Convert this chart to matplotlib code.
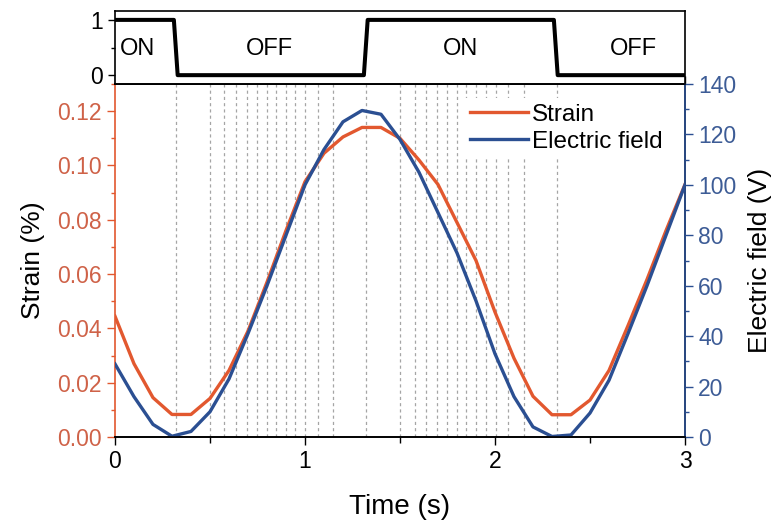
import matplotlib
matplotlib.use("Agg")
import matplotlib.pyplot as plt
import numpy as np
from matplotlib.ticker import MultipleLocator, FormatStrFormatter

plt.rcParams['font.family'] = ['Liberation Sans', 'DejaVu Sans']

# sampled every 0.1 s
time = [0.0, 0.1, 0.2, 0.3, 0.4, 0.5, 0.6, 0.7, 0.8, 0.9, 1.0,
        1.1, 1.2, 1.3, 1.4, 1.5, 1.6, 1.7, 1.8, 1.9, 2.0,
        2.1, 2.2, 2.3, 2.4, 2.5, 2.6, 2.7, 2.8, 2.9, 3.0]
strain = [0.0445, 0.027, 0.0145, 0.0083, 0.0083, 0.0142, 0.0245, 0.039, 0.057, 0.076, 0.094,
          0.1045, 0.1105, 0.114, 0.114, 0.110, 0.102, 0.093, 0.079, 0.065, 0.046,
          0.029, 0.015, 0.0082, 0.0082, 0.0136, 0.0245, 0.041, 0.058, 0.076, 0.093]
efield = [29, 16, 5, 0.3, 2.2, 10, 23, 41, 60, 80, 100,
          114, 125, 129.5, 128, 118, 105, 89, 73, 54, 33,
          16, 4, 0.2, 0.8, 9.5, 22.5, 41, 60, 80, 100]

# switching state of the source
switch_t = [0.0, 0.31, 0.33, 1.31, 1.33, 2.31, 2.33, 3.0]
switch_v = [1, 1, 0, 0, 1, 1, 0, 0]
state_labels = ['ON', 'OFF', 'ON', 'OFF']
state_pos = [0.12, 0.815, 1.82, 2.73]

# sampling instants
marks = [0.32, 0.5, 0.574, 0.637, 0.694, 0.747, 0.798, 0.848, 0.9, 0.95, 1.0,
         1.07, 1.148, 1.323, 1.5, 1.578, 1.639, 1.695, 1.75, 1.8, 1.85, 1.9,
         1.952, 2.007, 2.07, 2.152, 2.324]

c_strain = '#E2582F'
c_field = '#2B4F92'
c_strain_txt = '#CF6248'
c_field_txt = '#3D5C96'
tick_fs = 16.5

fig = plt.figure(figsize=(7.8, 5.26), dpi=100)
ax = fig.add_axes([0.1474, 0.1692, 0.7308, 0.6711])
top = fig.add_axes([0.1474, 0.8403, 0.7308, 0.1387])
ax2 = ax.twinx()

# switching panel
top.plot(switch_t, switch_v, color='black', lw=2.9)
top.set_xlim(0, 3)
top.set_ylim(-0.16, 1.16)
top.set_yticks([0, 1])
top.yaxis.set_minor_locator(MultipleLocator(0.5))
top.set_xticks([])
top.tick_params(axis='y', labelsize=tick_fs, length=5, width=1)
top.tick_params(axis='y', which='minor', length=3, width=1)
for lbl, x in zip(state_labels, state_pos):
    top.text(x, 0.48, lbl, ha='center', va='center', fontsize=17)

# main panel
for m in marks:
    ax.axvline(m, color='#a5a5a5', lw=0.9, ls=(0, (2.5, 2.5)), zorder=0)
l1, = ax.plot(time, strain, color=c_strain, lw=2.4, label='Strain')
l2, = ax2.plot(time, efield, color=c_field, lw=2.4, label='Electric field')

ax.set_xlim(0, 3)
ax.set_ylim(0, 0.13)
ax2.set_ylim(0, 140)
ax.set_xticks([0, 1, 2, 3])
ax.xaxis.set_minor_locator(MultipleLocator(0.5))
ax.set_yticks(np.arange(0, 0.121, 0.02))
ax.yaxis.set_minor_locator(MultipleLocator(0.01))
ax2.set_yticks(np.arange(0, 141, 20))
ax2.yaxis.set_minor_locator(MultipleLocator(10))
ax.yaxis.set_major_formatter(FormatStrFormatter('%.2f'))

ax.tick_params(axis='x', which='both', top=True, labelsize=tick_fs, width=1)
ax.tick_params(axis='x', which='major', length=6)
ax.tick_params(axis='x', which='minor', length=4)
ax.tick_params(axis='y', which='both', labelsize=tick_fs, labelcolor=c_strain_txt,
               color=c_strain, width=1)
ax.tick_params(axis='y', which='major', length=6)
ax.tick_params(axis='y', which='minor', length=3)
ax2.tick_params(axis='y', which='both', labelsize=tick_fs, labelcolor=c_field_txt,
                color=c_field, width=1)
ax2.tick_params(axis='y', which='major', length=6)
ax2.tick_params(axis='y', which='minor', length=3)

ax.spines['left'].set_color(c_strain)
ax2.spines['right'].set_color(c_field)
for a in (ax, ax2, top):
    for s in a.spines.values():
        s.set_linewidth(1.2)
ax2.spines['left'].set_visible(False)

ax.set_xlabel('Time (s)', fontsize=20, labelpad=15)
ax.set_ylabel('Strain (%)', fontsize=19, labelpad=9)
ax2.set_ylabel('Electric field (V)', fontsize=19, labelpad=8)

leg = ax2.legend(handles=[l1, l2], loc='upper left', bbox_to_anchor=(0.603, 0.975),
                 fontsize=17.5, frameon=True, framealpha=1, edgecolor='none',
                 facecolor='white', fancybox=False, borderpad=0.25,
                 handlelength=2.4, handletextpad=0.15, labelspacing=0.2,
                 borderaxespad=0.2)

fig.savefig('out.png', dpi=100)
